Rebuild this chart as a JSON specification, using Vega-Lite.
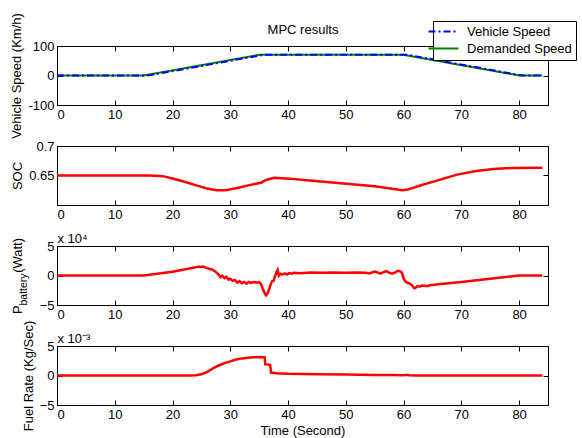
{
  "$schema": "https://vega.github.io/schema/vega-lite/v6.json",
  "background": "white",
  "padding": {"left": 10, "top": 12, "right": 0, "bottom": 0},
  "datasets": {
    "speed": [
      {"t": 0, "series": "Demanded Speed", "v": 0},
      {"t": 15, "series": "Demanded Speed", "v": 0},
      {"t": 35, "series": "Demanded Speed", "v": 70},
      {"t": 60, "series": "Demanded Speed", "v": 70},
      {"t": 80, "series": "Demanded Speed", "v": 0},
      {"t": 84, "series": "Demanded Speed", "v": 0},
      {"t": 0, "series": "Vehicle Speed", "v": 0},
      {"t": 15.5, "series": "Vehicle Speed", "v": 0},
      {"t": 16.5, "series": "Vehicle Speed", "v": 2.5},
      {"t": 35.3, "series": "Vehicle Speed", "v": 68.5},
      {"t": 36, "series": "Vehicle Speed", "v": 70},
      {"t": 60.4, "series": "Vehicle Speed", "v": 70},
      {"t": 61, "series": "Vehicle Speed", "v": 69},
      {"t": 80.5, "series": "Vehicle Speed", "v": 0},
      {"t": 84, "series": "Vehicle Speed", "v": 0}
    ],
    "soc": [
      {"t": 0, "soc": 0.65}, {"t": 16, "soc": 0.65}, {"t": 18.3, "soc": 0.6489},
      {"t": 20.2, "soc": 0.6444}, {"t": 22.2, "soc": 0.6389}, {"t": 24.1, "soc": 0.6333},
      {"t": 26, "soc": 0.6278}, {"t": 27.6, "soc": 0.625}, {"t": 29.2, "soc": 0.625},
      {"t": 31.2, "soc": 0.6289}, {"t": 33.1, "soc": 0.6333}, {"t": 35.3, "soc": 0.6378},
      {"t": 36.3, "soc": 0.6428}, {"t": 37.6, "soc": 0.6461}, {"t": 40.2, "soc": 0.6447},
      {"t": 44.7, "soc": 0.6406}, {"t": 50.1, "soc": 0.6361}, {"t": 55, "soc": 0.6317},
      {"t": 59.8, "soc": 0.6252}, {"t": 60.7, "soc": 0.6261}, {"t": 63.3, "soc": 0.6344},
      {"t": 65.9, "soc": 0.6417}, {"t": 69.1, "soc": 0.6511}, {"t": 72.3, "soc": 0.6572},
      {"t": 75.5, "soc": 0.6611}, {"t": 78.7, "soc": 0.6628}, {"t": 84, "soc": 0.6633}
    ],
    "pbat": [
      {"t": 0, "p": 0}, {"t": 15, "p": 0}, {"t": 17, "p": 2500}, {"t": 20, "p": 6500},
      {"t": 22, "p": 10000}, {"t": 24, "p": 14000}, {"t": 24.5, "p": 15000}, {"t": 25, "p": 14500},
      {"t": 25.3, "p": 15200}, {"t": 26, "p": 12500}, {"t": 26.5, "p": 11000}, {"t": 27, "p": 9500},
      {"t": 27.5, "p": 6000}, {"t": 28, "p": 1000}, {"t": 28.3, "p": -3000}, {"t": 28.6, "p": -500},
      {"t": 29, "p": -4500}, {"t": 29.3, "p": -2000}, {"t": 29.7, "p": -7000}, {"t": 30, "p": -5500},
      {"t": 30.4, "p": -9000}, {"t": 30.8, "p": -7500}, {"t": 31.2, "p": -12000}, {"t": 31.6, "p": -9500},
      {"t": 32, "p": -13000}, {"t": 32.4, "p": -11000}, {"t": 32.8, "p": -14000}, {"t": 33.2, "p": -11000},
      {"t": 33.6, "p": -12500}, {"t": 34, "p": -11000}, {"t": 34.5, "p": -12000}, {"t": 35, "p": -11500},
      {"t": 35.3, "p": -14000}, {"t": 35.6, "p": -22000}, {"t": 36, "p": -31000}, {"t": 36.2, "p": -33500},
      {"t": 36.5, "p": -29000}, {"t": 37, "p": -15000}, {"t": 37.2, "p": -10000}, {"t": 37.5, "p": -9000},
      {"t": 37.8, "p": 0}, {"t": 38, "p": 6000}, {"t": 38.2, "p": 9500}, {"t": 38.4, "p": -500},
      {"t": 38.7, "p": 3000}, {"t": 39, "p": 1500}, {"t": 39.4, "p": 3500}, {"t": 39.8, "p": 1500},
      {"t": 40.2, "p": 4000}, {"t": 40.6, "p": 3000}, {"t": 41, "p": 4500}, {"t": 42, "p": 4000},
      {"t": 44, "p": 5000}, {"t": 46, "p": 4500}, {"t": 48, "p": 5000}, {"t": 50, "p": 4500},
      {"t": 52, "p": 5000}, {"t": 53.5, "p": 4500}, {"t": 54, "p": 3500}, {"t": 55, "p": 6500},
      {"t": 55.5, "p": 5000}, {"t": 56, "p": 3000}, {"t": 56.5, "p": 5500}, {"t": 57, "p": 7500},
      {"t": 57.5, "p": 5000}, {"t": 58, "p": 3000}, {"t": 58.5, "p": 5000}, {"t": 59, "p": 8000},
      {"t": 59.4, "p": 7000}, {"t": 59.7, "p": 5000}, {"t": 60, "p": -5000}, {"t": 60.3, "p": -10000},
      {"t": 60.6, "p": -12000}, {"t": 61, "p": -13500}, {"t": 61.5, "p": -17000}, {"t": 61.8, "p": -21000},
      {"t": 62, "p": -21500}, {"t": 62.4, "p": -18000}, {"t": 62.8, "p": -19000}, {"t": 63.2, "p": -17000},
      {"t": 63.6, "p": -17500}, {"t": 64, "p": -18000}, {"t": 64.5, "p": -16500}, {"t": 65, "p": -16000},
      {"t": 65.5, "p": -15500}, {"t": 66, "p": -15000}, {"t": 70, "p": -11000}, {"t": 75, "p": -5500},
      {"t": 80, "p": 0}, {"t": 84, "p": 0}
    ],
    "fuel": [
      {"t": 0, "f": 0}, {"t": 23, "f": 0}, {"t": 24, "f": 0.00005}, {"t": 25, "f": 0.0002},
      {"t": 26, "f": 0.0006}, {"t": 27, "f": 0.0012}, {"t": 28, "f": 0.0017}, {"t": 29, "f": 0.0021},
      {"t": 30, "f": 0.0024}, {"t": 31, "f": 0.0027}, {"t": 32, "f": 0.0029}, {"t": 33, "f": 0.003},
      {"t": 34, "f": 0.0031}, {"t": 35, "f": 0.00315}, {"t": 35.5, "f": 0.0031}, {"t": 35.95, "f": 0.0031},
      {"t": 36.05, "f": 0.0019}, {"t": 36.9, "f": 0.0018}, {"t": 37.05, "f": 0.0005}, {"t": 38, "f": 0.0004},
      {"t": 40, "f": 0.0003}, {"t": 45, "f": 0.0002}, {"t": 50, "f": 0.00015}, {"t": 55, "f": 0.0001},
      {"t": 58, "f": 0.0001}, {"t": 60, "f": 0.00005}, {"t": 60.5, "f": 0.00012}, {"t": 61, "f": 0.00005},
      {"t": 62, "f": 0}, {"t": 84, "f": 0}
    ]
  },
  "vconcat": [
    {
      "width": 491, "height": 59,
      "data": {"name": "speed"},
      "layer": [
        {
          "mark": {"type": "line", "strokeWidth": 2},
          "encoding": {
            "x": {"field": "t", "type": "quantitative", "scale": {"domain": [0, 85], "nice": false},
                  "axis": {"orient": "bottom", "title": null, "values": [0, 10, 20, 30, 40, 50, 60, 70, 80]}},
            "y": {"field": "v", "type": "quantitative", "scale": {"domain": [-100, 100], "nice": false},
                  "axis": {"orient": "left", "title": "Vehicle Speed (Km/h)", "values": [-100, 0, 100], "labelExpr": "'' + datum.value"}},
            "color": {"field": "series", "type": "nominal",
                      "scale": {"domain": ["Vehicle Speed", "Demanded Speed"], "range": ["#0000ff", "#008000"]},
                      "legend": {"title": null, "orient": "none", "legendX": 376, "legendY": -25}},
            "strokeDash": {"field": "series", "type": "nominal",
                      "scale": {"domain": ["Vehicle Speed", "Demanded Speed"], "range": [[7, 3, 2, 3], [1, 0]]},
                      "legend": {"title": null, "orient": "none", "legendX": 376, "legendY": -25}}
          }
        },
        {
          "mark": {"type": "line", "opacity": 0},
          "encoding": {
            "x": {"field": "t", "type": "quantitative",
                  "axis": {"orient": "top", "title": "MPC results", "titlePadding": 9, "labels": false, "values": [0, 10, 20, 30, 40, 50, 60, 70, 80]}},
            "y": {"field": "v", "type": "quantitative",
                  "axis": {"orient": "right", "title": null, "labels": false, "values": [-100, 0, 100]}},
            "detail": {"field": "series"}
          }
        }
      ],
      "resolve": {"axis": {"x": "independent", "y": "independent"}}
    },
    {
      "width": 491, "height": 59,
      "data": {"name": "soc"},
      "layer": [
        {
          "mark": {"type": "line", "strokeWidth": 2.5, "color": "#ff0000"},
          "encoding": {
            "x": {"field": "t", "type": "quantitative", "scale": {"domain": [0, 85], "nice": false},
                  "axis": {"orient": "bottom", "title": null, "values": [0, 10, 20, 30, 40, 50, 60, 70, 80]}},
            "y": {"field": "soc", "type": "quantitative", "scale": {"domain": [0.6, 0.7], "nice": false, "zero": false},
                  "axis": {"orient": "left", "title": "SOC", "values": [0.65, 0.7], "labelExpr": "'' + datum.value"}}
          }
        },
        {
          "mark": {"type": "line", "opacity": 0},
          "encoding": {
            "x": {"field": "t", "type": "quantitative",
                  "axis": {"orient": "top", "title": null, "labels": false, "values": [0, 10, 20, 30, 40, 50, 60, 70, 80]}},
            "y": {"field": "soc", "type": "quantitative",
                  "axis": {"orient": "right", "title": null, "labels": false, "values": [0.65, 0.7]}}
          }
        }
      ],
      "resolve": {"axis": {"x": "independent", "y": "independent"}}
    },
    {
      "width": 491, "height": 59,
      "data": {"name": "pbat"},
      "layer": [
        {
          "mark": {"type": "line", "strokeWidth": 2.5, "color": "#ff0000"},
          "encoding": {
            "x": {"field": "t", "type": "quantitative", "scale": {"domain": [0, 85], "nice": false},
                  "axis": {"orient": "bottom", "title": null, "values": [0, 10, 20, 30, 40, 50, 60, 70, 80]}},
            "y": {"field": "p", "type": "quantitative", "scale": {"domain": [-50000, 50000], "nice": false},
                  "axis": {"orient": "left", "title": "P\u00a0\u00a0\u00a0\u00a0\u00a0\u00a0\u00a0\u00a0\u00a0(Watt)",
                           "titleAngle": 270, "titleAlign": "center", "titleBaseline": "bottom", "titleX": -33, "titleY": 29.5,
                           "values": [-50000, 0, 50000], "labelExpr": "format(datum.value / 10000, 'd')"}}
          }
        },
        {
          "mark": {"type": "line", "opacity": 0},
          "encoding": {
            "x": {"field": "t", "type": "quantitative",
                  "axis": {"orient": "top", "title": "x 10⁴", "titleAnchor": "start", "titleAlign": "left", "titlePadding": 0,
                           "labels": false, "values": [0, 10, 20, 30, 40, 50, 60, 70, 80]}},
            "y": {"field": "p", "type": "quantitative",
                  "axis": {"orient": "right", "title": null, "labels": false, "values": [-50000, 0, 50000]}}
          }
        },
        {
          "mark": {"type": "line", "opacity": 0},
          "encoding": {
            "x": {"field": "t", "type": "quantitative", "axis": null},
            "y": {"field": "p", "type": "quantitative",
                  "axis": {"orient": "left", "title": "battery", "titleFontSize": 10.5,
                           "titleAngle": 270, "titleAlign": "center", "titleBaseline": "bottom", "titleX": -29, "titleY": 43,
                           "labels": false, "ticks": false, "domain": false}}
          }
        }
      ],
      "resolve": {"axis": {"x": "independent", "y": "independent"}}
    },
    {
      "width": 491, "height": 59,
      "data": {"name": "fuel"},
      "layer": [
        {
          "mark": {"type": "line", "strokeWidth": 2.5, "color": "#ff0000"},
          "encoding": {
            "x": {"field": "t", "type": "quantitative", "scale": {"domain": [0, 85], "nice": false},
                  "axis": {"orient": "bottom", "title": "Time (Second)", "titlePadding": 3, "values": [0, 10, 20, 30, 40, 50, 60, 70, 80]}},
            "y": {"field": "f", "type": "quantitative", "scale": {"domain": [-0.005, 0.005], "nice": false},
                  "axis": {"orient": "left", "title": "Fuel Rate (Kg/Sec)", "values": [-0.005, 0, 0.005], "labelExpr": "format(datum.value * 1000, 'd')"}}
          }
        },
        {
          "mark": {"type": "line", "opacity": 0},
          "encoding": {
            "x": {"field": "t", "type": "quantitative",
                  "axis": {"orient": "top", "title": "x 10⁻³", "titleAnchor": "start", "titleAlign": "left", "titlePadding": 0,
                           "labels": false, "values": [0, 10, 20, 30, 40, 50, 60, 70, 80]}},
            "y": {"field": "f", "type": "quantitative",
                  "axis": {"orient": "right", "title": null, "labels": false, "values": [-0.005, 0, 0.005]}}
          }
        }
      ],
      "resolve": {"axis": {"x": "independent", "y": "independent"}}
    }
  ],
  "spacing": 41,
  "bounds": "flush",
  "resolve": {
    "scale": {"color": "independent", "strokeDash": "independent"},
    "legend": {"color": "independent", "strokeDash": "independent"}
  },
  "config": {
    "font": "Liberation Sans",
    "view": {"stroke": "black", "strokeWidth": 1},
    "axis": {
      "grid": false, "labelFontSize": 13, "labelColor": "black", "titleFontSize": 13,
      "titleFontWeight": "normal", "titleColor": "black", "tickColor": "black", "domainColor": "black",
      "tickSize": -5, "labelPadding": 8, "titlePadding": 4, "domainWidth": 1, "tickWidth": 1
    },
    "title": {"fontSize": 13, "fontWeight": "normal", "color": "black"},
    "legend": {
      "symbolType": "M-3,0H3", "symbolSize": 100, "symbolStrokeWidth": 2, "labelFontSize": 13,
      "labelColor": "black", "strokeColor": "black", "fillColor": "white", "padding": 4,
      "rowPadding": 3, "labelOffset": 17, "cornerRadius": 0
    }
  }
}
